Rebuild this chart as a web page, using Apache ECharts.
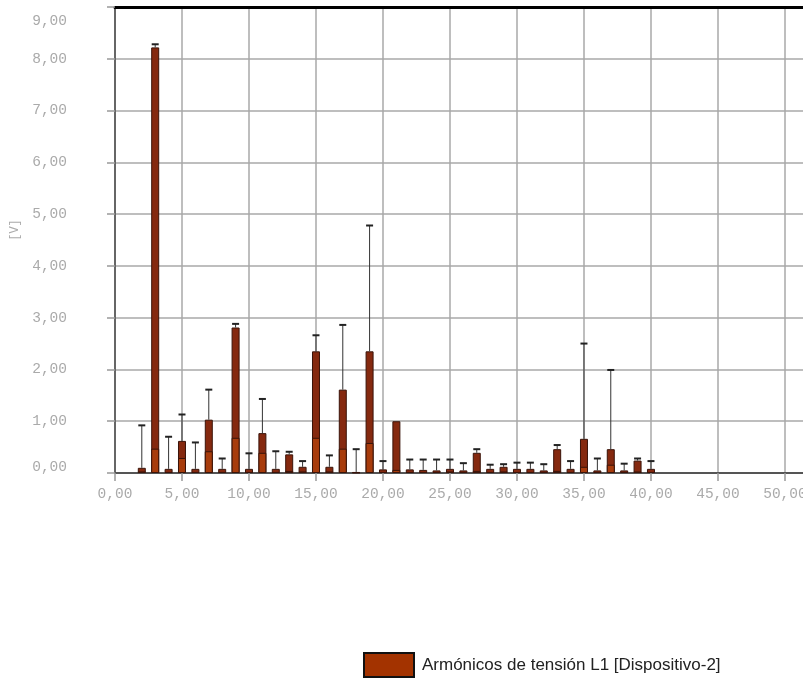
<!DOCTYPE html>
<html>
<head>
<meta charset="utf-8">
<script src="https://cdn.jsdelivr.net/npm/echarts@6/dist/echarts.min.js"></script>
<style>html,body{margin:0;padding:0;background:#fff;}#c{width:803px;height:681px;}</style>
</head>
<body>
<div id="c"></div>
<script>
var seriesName = 'Armónicos de tensión L1 [Dispositivo-2]';
var harmonics = [2,3,4,5,6,7,8,9,10,11,12,13,14,15,16,17,18,19,20,21,22,23,24,25,26,27,28,29,30,31,32,33,34,35,36,37,38,39,40];
var avgValues = [0.10,8.22,0.08,0.62,0.08,1.03,0.08,2.81,0.08,0.77,0.08,0.36,0.12,2.35,0.12,1.61,0.02,2.35,0.07,1.00,0.07,0.06,0.05,0.08,0.05,0.39,0.08,0.12,0.08,0.08,0.05,0.46,0.08,0.66,0.05,0.46,0.05,0.24,0.08];
var minValues = [0.03,0.47,0.02,0.29,0.02,0.42,0.02,0.68,0.02,0.39,0.02,0.04,0.03,0.68,0.03,0.47,0.01,0.58,0.02,0.06,0.02,0.02,0.02,0.03,0.02,0.04,0.02,0.03,0.02,0.02,0.02,0.04,0.02,0.12,0.02,0.16,0.02,0.03,0.02];
var maxValues = [0.92,8.28,0.70,1.13,0.59,1.61,0.28,2.88,0.38,1.43,0.42,0.41,0.23,2.66,0.34,2.86,0.46,4.78,0.23,1.00,0.26,0.26,0.26,0.26,0.19,0.46,0.16,0.17,0.20,0.20,0.17,0.54,0.23,2.50,0.28,1.99,0.18,0.28,0.23];

function fmt(v){ return v.toFixed(2).replace('.', ','); }

var chart = echarts.init(document.getElementById('c'));
var XMAX = 51.57;
chart.setOption({
  animation: false,
  grid: { left: 115, right: -3, top: 7, bottom: 208, outerBoundsMode: 'none', containLabel: false },
  legend: {
    left: 358, top: 647,
    itemWidth: 50, itemHeight: 24,
    textStyle: { fontFamily: 'Liberation Sans', fontSize: 17, color: '#222', padding: [0,0,0,3] },
    data: [{ name: seriesName, icon: 'rect', itemStyle: { color: '#A33300', borderColor: '#111', borderWidth: 2 } }]
  },
  xAxis: [{
    type: 'value', min: 0, max: XMAX, interval: 5,
    axisLine: { show: true, lineStyle: { color: '#555', width: 2 } },
    axisTick: { show: true, length: 8, lineStyle: { color: '#999', width: 1.5 } },
    axisLabel: {
      margin: 14, color: '#aaa', fontFamily: 'Liberation Mono', fontSize: 14.5,
      formatter: function(v){ return (Math.abs(v % 5) < 1e-6) ? fmt(v) : ''; }
    },
    splitLine: { show: true, lineStyle: { color: '#a8a8a8', width: 1.5 } }
  }, {
    type: 'value', position: 'top', min: 0, max: XMAX,
    axisLine: { show: true, lineStyle: { color: '#000', width: 3 } },
    axisTick: { show: false }, axisLabel: { show: false }, splitLine: { show: false }
  }],
  yAxis: {
    type: 'value', min: 0, max: 9, interval: 1,
    name: '[V]', nameLocation: 'middle', nameGap: 88,
    nameTextStyle: { color: '#aaa', fontFamily: 'Liberation Mono', fontSize: 12, padding: [0,0,0,20] },
    axisLine: { show: true, lineStyle: { color: '#666', width: 2 } },
    axisTick: { show: true, length: 8, lineStyle: { color: '#999', width: 1.5 } },
    axisLabel: {
      margin: 48, color: '#aaa', fontFamily: 'Liberation Mono', fontSize: 14.5,
      formatter: function(v){
        if (v === 9) return '{t|' + fmt(v) + '}';
        if (v === 0) return '{b|' + fmt(v) + '}';
        return fmt(v);
      },
      rich: {
        t: { color: '#aaa', fontFamily: 'Liberation Mono', fontSize: 14.5, padding: [28,0,0,0] },
        b: { color: '#aaa', fontFamily: 'Liberation Mono', fontSize: 14.5, padding: [0,0,11,0] }
      }
    },
    splitLine: { show: true, lineStyle: { color: '#a8a8a8', width: 1.5 } }
  },
  series: [{
    name: seriesName, type: 'bar', barWidth: 8, barGap: '-100%',
    data: harmonics.map(function(h,i){ return [h, avgValues[i]]; }),
    itemStyle: { color: '#85290F', borderColor: '#3a140a', borderWidth: 1 },
    z: 2
  }, {
    name: 'min', type: 'bar', barWidth: 8, barGap: '-100%',
    data: harmonics.map(function(h,i){ return [h, minValues[i]]; }),
    itemStyle: { color: '#A83C0C', borderColor: '#3a140a', borderWidth: 1 },
    z: 3
  }, {
    name: 'max', type: 'custom',
    data: harmonics.map(function(h,i){ return [h, avgValues[i], maxValues[i]]; }),
    encode: { x: 0, y: 2 },
    z: 4,
    renderItem: function(params, api){
      var x = api.value(0), a = api.value(1), m = api.value(2);
      if (m <= a) return { type: 'group', children: [] };
      var p0 = api.coord([x, a]), p1 = api.coord([x, m]);
      return { type: 'group', children: [
        { type: 'line', shape: { x1: p0[0], y1: p0[1], x2: p1[0], y2: p1[1] }, style: { stroke: '#333', lineWidth: 1 } },
        { type: 'line', shape: { x1: p1[0]-3.5, y1: p1[1], x2: p1[0]+3.5, y2: p1[1] }, style: { stroke: '#222', lineWidth: 2 } }
      ]};
    }
  }]
});
</script>
</body>
</html>
